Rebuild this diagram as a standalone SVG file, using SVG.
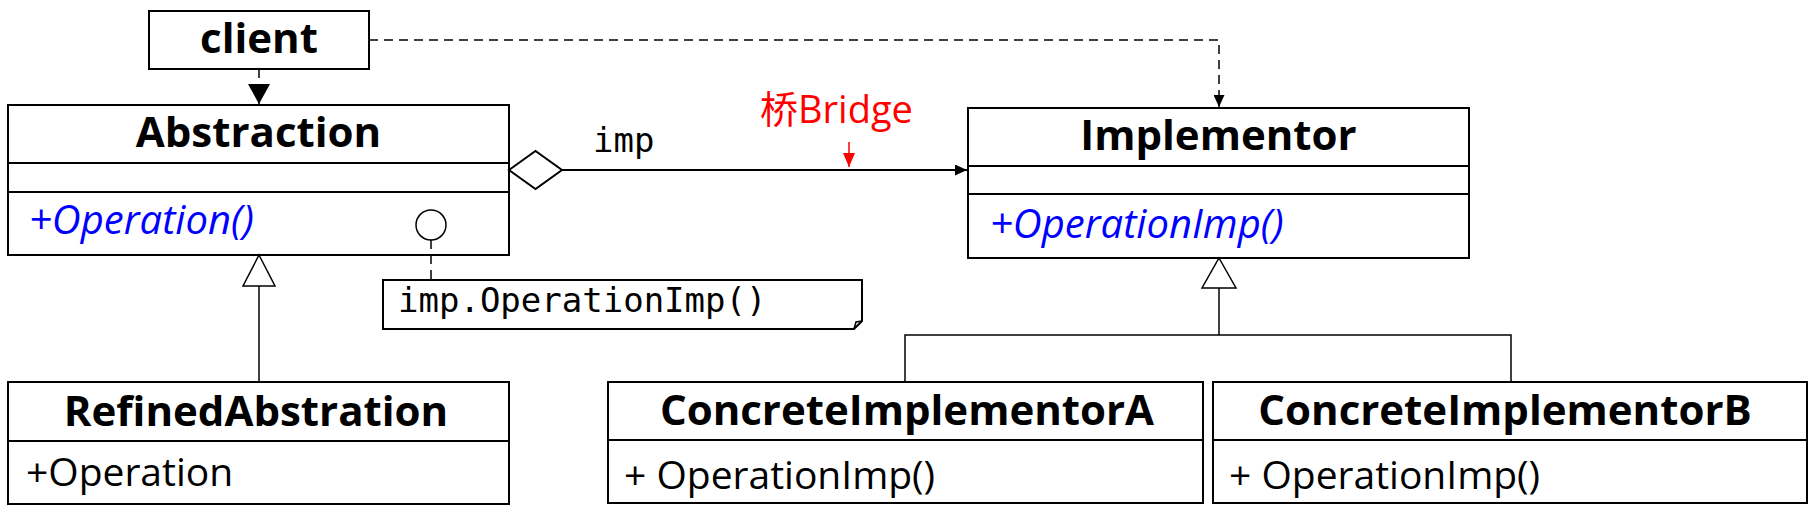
<svg xmlns="http://www.w3.org/2000/svg" width="1809" height="517" viewBox="0 0 1809 517">
<defs>
<style>
.box{fill:#fff;stroke:#000;stroke-width:2}
.div{stroke:#000;stroke-width:2}
.title{font-family:"Open Sans","Noto Sans",sans-serif;font-weight:bold;font-size:42px;fill:#000;text-anchor:middle}
.op{font-family:"Open Sans","Noto Sans",sans-serif;font-size:39px;fill:#000}
.opi{font-family:"Open Sans","Noto Sans",sans-serif;font-size:40px;font-style:italic;fill:#0000ff}
.mono{font-family:"DejaVu Sans Mono",monospace;font-size:34px;fill:#000}
.line{stroke:#000;stroke-width:2;fill:none}
.thin{stroke:#000;stroke-width:1.5;fill:none}
.dash{stroke:#000;stroke-width:1.5;fill:none;stroke-dasharray:9 6}
</style>
<marker id="arrBig" viewBox="0 0 20 22" refX="20" refY="11" markerWidth="20" markerHeight="22" markerUnits="userSpaceOnUse" orient="auto">
<path d="M0,0 L20,11 L0,22 Z" fill="#000"/>
</marker>
<marker id="arrSmall" viewBox="0 0 12 11" refX="12" refY="5.5" markerWidth="12" markerHeight="11" markerUnits="userSpaceOnUse" orient="auto">
<path d="M0,0 L12,5.5 L0,11 Z" fill="#000"/>
</marker>
<marker id="arrRed" viewBox="0 0 14 12" refX="14" refY="6" markerWidth="14" markerHeight="12" markerUnits="userSpaceOnUse" orient="auto">
<path d="M0,0 L14,6 L0,12 Z" fill="#ff0000"/>
</marker>
</defs>
<rect width="1809" height="517" fill="#fff"/>

<g id="client">
<rect class="box" x="149" y="11" width="220" height="58"/>
<text class="title" x="259" y="53">client</text>
</g>

<g id="abstraction">
<rect class="box" x="8" y="105" width="501" height="150"/>
<line class="div" x1="8" y1="163" x2="509" y2="163"/>
<line class="div" x1="8" y1="192" x2="509" y2="192" stroke-width="3"/>
<text class="title" x="258.5" y="147">Abstraction</text>
<text class="opi" x="29" y="234">+Operation()</text>
</g>

<g id="implementor">
<rect class="box" x="968" y="108" width="501" height="150"/>
<line class="div" x1="968" y1="166" x2="1469" y2="166"/>
<line class="div" x1="968" y1="194" x2="1469" y2="194"/>
<text class="title" x="1218.5" y="150">Implementor</text>
<text class="opi" x="990" y="238">+OperationImp()</text>
</g>

<g id="note">
<path d="M383,280 H862 V321 L854,329 H383 Z" fill="#fff" stroke="#000" stroke-width="2"/>
<path d="M854,329 L856,322 L862,321" fill="none" stroke="#000" stroke-width="1.5"/>
<text class="mono" x="398" y="312">imp.OperationImp()</text>
</g>

<g id="refined">
<rect class="box" x="8" y="382" width="501" height="122"/>
<line class="div" x1="8" y1="441" x2="509" y2="441"/>
<text class="title" x="256" y="426">RefinedAbstration</text>
<text class="op" x="26" y="486">+Operation</text>
</g>

<g id="concreteA">
<rect class="box" x="608" y="382" width="595" height="121"/>
<line class="div" x1="608" y1="440" x2="1203" y2="440"/>
<text class="title" x="907" y="425">ConcreteImplementorA</text>
<text class="op" x="624" y="489">+ OperationImp()</text>
</g>

<g id="concreteB">
<rect class="box" x="1213" y="382" width="594" height="121"/>
<line class="div" x1="1213" y1="440" x2="1807" y2="440"/>
<text class="title" x="1505" y="425">ConcreteImplementorB</text>
<text class="op" x="1229" y="489">+ OperationImp()</text>
</g>

<g id="connectors">
<line class="dash" x1="259" y1="69" x2="259" y2="104" marker-end="url(#arrBig)"/>
<polyline class="dash" points="369,40 1219,40 1219,107" marker-end="url(#arrSmall)"/>
<line class="line" x1="562" y1="170" x2="967" y2="170" marker-end="url(#arrSmall)"/>
<path d="M509,170 L535.5,151 L562,170 L535.5,189 Z" fill="#fff" stroke="#000" stroke-width="2"/>
<text class="mono" x="593" y="152">imp</text>
<line class="thin" x1="259" y1="286" x2="259" y2="382"/>
<path d="M259,255 L275,286 L243,286 Z" fill="#fff" stroke="#000" stroke-width="1.5"/>
<polyline class="thin" points="1219,288 1219,335"/>
<polyline class="thin" points="905,382 905,335 1511,335 1511,382"/>
<path d="M1219,258 L1236,288 L1202,288 Z" fill="#fff" stroke="#000" stroke-width="1.5"/>
<circle cx="431" cy="225" r="15" fill="#fff" stroke="#000" stroke-width="1.5"/>
<line class="dash" x1="431" y1="240" x2="431" y2="280" stroke-dasharray="8 6"/>
</g>

<g id="bridge-label">
<text x="760" y="123" font-family="'Open Sans','Noto Sans CJK SC',sans-serif" font-size="38" fill="#ff0000">桥Bridge</text>
<line x1="849" y1="142" x2="849" y2="167" stroke="#ff0000" stroke-width="1.5" marker-end="url(#arrRed)"/>
</g>
</svg>
